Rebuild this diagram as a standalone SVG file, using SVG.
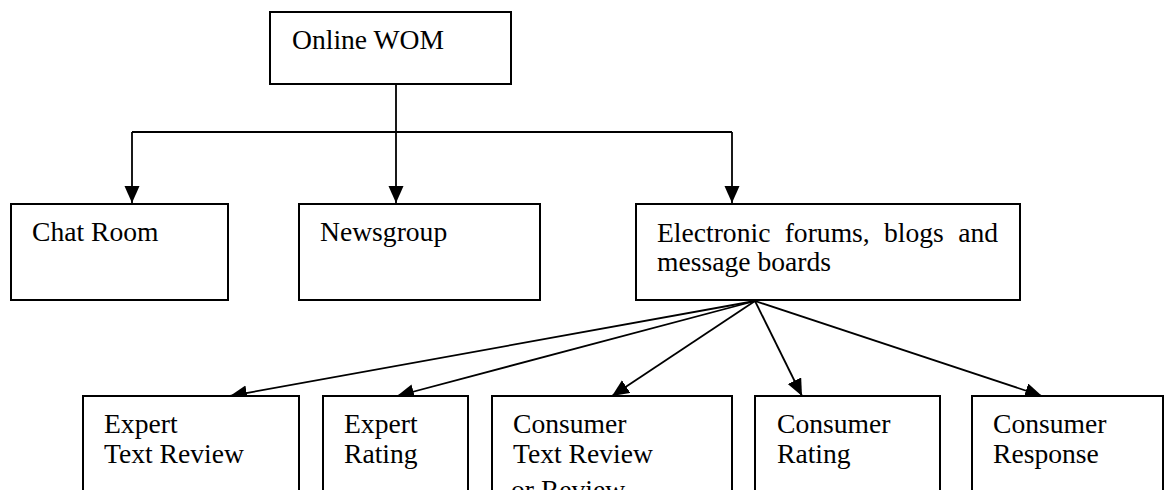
<svg xmlns="http://www.w3.org/2000/svg" width="1166" height="490" viewBox="0 0 1166 490">
  <style>
    .box { fill: #ffffff; stroke: #000000; stroke-width: 2; }
    .lbl { font-family: "Liberation Serif", "Times New Roman", serif; font-size: 27.6px; fill: #000000; }
    .wire { fill: none; stroke: #000000; stroke-width: 1.8; }
  </style>
  <defs>
    <marker id="head" markerUnits="userSpaceOnUse" markerWidth="18" markerHeight="16" refX="17" refY="7.5" orient="auto">
      <path d="M0,0 L17,7.5 L0,15 Z" fill="#000000"/>
    </marker>
  </defs>
  <rect width="1166" height="490" fill="#ffffff"/>

  <!-- connectors -->
  <g id="connectors">
    <path class="wire" d="M396,84 V132 M132,132 H732"/>
    <path class="wire" d="M132,132 V203" marker-end="url(#head)"/>
    <path class="wire" d="M396,132 V203" marker-end="url(#head)"/>
    <path class="wire" d="M732,132 V203" marker-end="url(#head)"/>
    <path class="wire" d="M755,301 L230,396" marker-end="url(#head)"/>
    <path class="wire" d="M755,301 L397,396" marker-end="url(#head)"/>
    <path class="wire" d="M755,301 L612,396" marker-end="url(#head)"/>
    <path class="wire" d="M755,301 L802,396" marker-end="url(#head)"/>
    <path class="wire" d="M755,301 L1042,396" marker-end="url(#head)"/>
  </g>

  <!-- top level -->
  <g id="online-wom">
    <rect class="box" x="270" y="12" width="241" height="72"/>
    <text class="lbl" x="292" y="49">Online WOM</text>
  </g>

  <!-- second level -->
  <g id="chat-room">
    <rect class="box" x="11" y="204" width="217" height="96"/>
    <text class="lbl" x="32" y="241">Chat Room</text>
  </g>
  <g id="newsgroup">
    <rect class="box" x="299" y="204" width="241" height="96"/>
    <text class="lbl" x="320" y="241">Newsgroup</text>
  </g>
  <g id="forums">
    <rect class="box" x="636" y="204" width="384" height="96"/>
    <text class="lbl" x="657" y="242" word-spacing="7.4">Electronic forums, blogs and</text>
    <text class="lbl" x="657" y="271">message boards</text>
  </g>

  <!-- third level -->
  <g id="expert-text-review">
    <rect class="box" x="83" y="396" width="216" height="120"/>
    <text class="lbl" x="104" y="433">Expert</text>
    <text class="lbl" x="104" y="463">Text Review</text>
  </g>
  <g id="expert-rating">
    <rect class="box" x="323" y="396" width="145" height="120"/>
    <text class="lbl" x="344" y="433">Expert</text>
    <text class="lbl" x="344" y="463">Rating</text>
  </g>
  <g id="consumer-text-review">
    <rect class="box" x="492" y="396" width="240" height="120"/>
    <text class="lbl" x="513" y="433">Consumer</text>
    <text class="lbl" x="513" y="463">Text Review</text>
    <text class="lbl" x="511" y="499">or Review</text>
  </g>
  <g id="consumer-rating">
    <rect class="box" x="755" y="396" width="185" height="120"/>
    <text class="lbl" x="777" y="433">Consumer</text>
    <text class="lbl" x="777" y="463">Rating</text>
  </g>
  <g id="consumer-response">
    <rect class="box" x="972" y="396" width="191" height="120"/>
    <text class="lbl" x="993" y="433">Consumer</text>
    <text class="lbl" x="993" y="463">Response</text>
  </g>
</svg>
